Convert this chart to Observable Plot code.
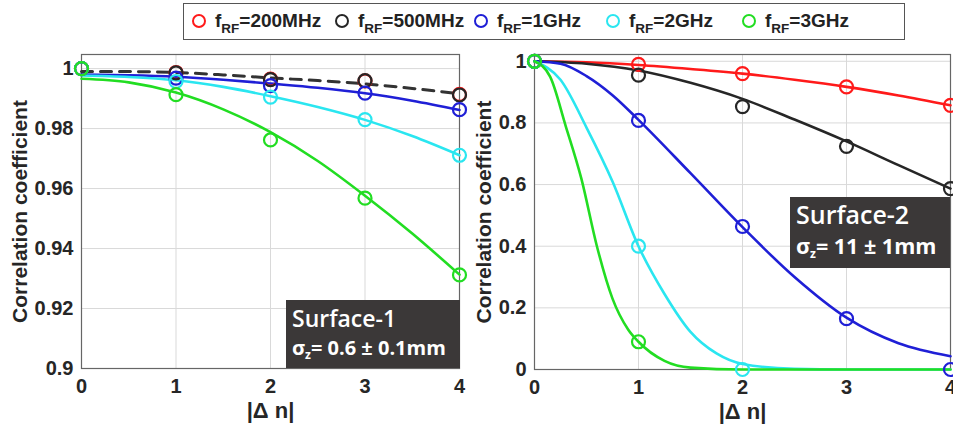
<!DOCTYPE html>
<html>
<head>
<meta charset="utf-8">
<script src="https://cdn.jsdelivr.net/npm/d3@7"></script>
<script src="https://cdn.jsdelivr.net/npm/@observablehq/plot@0.6"></script>
<style>
  html, body { margin: 0; padding: 0; background: #fff; }
  body { width: 953px; height: 429px; position: relative; overflow: hidden; font-family: "Liberation Sans", Arial, sans-serif; }
  #legend { position: absolute; left: 183px; top: 3px; width: 722px; height: 37px; border: 1.5px solid #555; box-sizing: border-box; background: #fff; z-index: 2; }
  .li { position: absolute; top: 0; height: 34px; display: flex; align-items: center; font-weight: bold; font-size: 19px; color: #222; white-space: nowrap; }
  .ring { display: inline-block; width: 10px; height: 10px; border-radius: 50%; border: 2px solid; margin-right: 9px; }
  .li sub { font-size: 13.5px; vertical-align: -6px; line-height: 0; }
  #left { position: absolute; left: 0; top: 40px; }
  #right { position: absolute; left: 470px; top: 40px; }
  .box { position: absolute; background: #3b3838; color: #fff; font-family: "Open Sans", "Noto Sans", sans-serif; box-sizing: border-box; }
  .box .t1 { position: absolute; left: 6px; font-weight: 600; white-space: nowrap; }
  .box .t2 { position: absolute; left: 6px; font-weight: 700; white-space: nowrap; }
  .box sub { font-size: 12px; vertical-align: -4px; line-height: 0; }
</style>
</head>
<body>
<div id="legend"></div>
<div id="left"></div>
<div id="right"></div>
<div class="box" style="left:286px; top:300px; width:174px; height:68px;">
  <div class="t1" style="top:2px; font-size:23px;">Surface-1</div>
  <div class="t2" style="top:34px; font-size:20px;">σ<sub>z</sub>= 0.6 ± 0.1mm</div>
</div>
<div class="box" style="left:790px; top:197px; width:160px; height:71px;">
  <div class="t1" style="top:0px; font-size:25px;">Surface-2</div>
  <div class="t2" style="top:34px; font-size:21.5px;">σ<sub>z</sub>= 11 ± 1mm</div>
</div>
<script>
// ---------- data ----------
const seriesNames = ["200MHz", "500MHz", "1GHz", "2GHz", "3GHz"];
const seriesColors = ["#ff1a1a", "#262626", "#1f1fd6", "#2ae6f0", "#22dd22"];
const dn = [0, 1, 2, 3, 4];

// Surface-1 measured points
const s1_200 = [1, 0.9987, 0.9965, 0.9959, 0.9914];
const s1_500 = [1, 0.9986, 0.9963, 0.9960, 0.9912];
const s1_1G  = [1, 0.9968, 0.9943, 0.9918, 0.9863];
const s1_2G  = [1, 0.9957, 0.9905, 0.9830, 0.9711];
const s1_3G  = [1, 0.9913, 0.9762, 0.9568, 0.9312];

// Surface-1 fitted curves
const fitX1 = [0, 0.5, 1, 1.5, 2, 2.5, 3, 3.5, 4];
const f1_500 = [0.9990, 0.9990, 0.9987, 0.9979, 0.9969, 0.9960, 0.9949, 0.9934, 0.9916];
const f1_1G  = [0.9980, 0.9978, 0.9973, 0.9963, 0.9950, 0.9936, 0.9918, 0.9893, 0.9862];
const f1_2G  = [0.9977, 0.9972, 0.9961, 0.9939, 0.9908, 0.9872, 0.9829, 0.9775, 0.9711];
const f1_3G  = [0.9966, 0.9954, 0.9920, 0.9864, 0.9788, 0.9692, 0.9576, 0.9450, 0.9313];

// Surface-2 measured points
const s2_200 = [1, 0.990, 0.960, 0.917, 0.857];
const s2_500 = [1, 0.955, 0.853, 0.724, 0.587];
const s2_1G  = [1, 0.808, 0.464, 0.165, 0.0];
const s2_2G  = [1, 0.40, 0.0];
const s2_3G  = [1, 0.09];

// Surface-2 fitted curves
const fitX2a = [0, 0.5, 1, 1.5, 2, 2.5, 3, 3.5, 4];
const f2_200 = [1, 0.997, 0.988, 0.975, 0.960, 0.940, 0.917, 0.889, 0.857];
const f2_500 = [1, 0.992, 0.970, 0.930, 0.878, 0.811, 0.740, 0.663, 0.587];
const fitX2b = [0, 0.25, 0.5, 0.75, 1, 1.5, 2, 2.5, 3, 3.5, 4];
const f2_1G  = [1, 0.992, 0.952, 0.890, 0.810, 0.637, 0.462, 0.300, 0.168, 0.085, 0.043];
const fitX2c = [0, 0.25, 0.5, 0.75, 1, 1.25, 1.5, 1.75, 2, 2.5, 3, 4];
const f2_2G  = [1, 0.940, 0.785, 0.610, 0.400, 0.245, 0.122, 0.052, 0.018, 0.002, 0, 0];
const fitX2d = [0, 0.15, 0.3, 0.45, 0.6, 0.75, 0.9, 1, 1.25, 1.5, 2, 3, 4];
const f2_3G  = [1, 0.950, 0.790, 0.620, 0.400, 0.230, 0.130, 0.090, 0.028, 0.006, 0, 0, 0];

const yTicks1 = [0.9, 0.92, 0.94, 0.96, 0.98, 1];
const yTicks2 = [0, 0.2, 0.4, 0.6, 0.8, 1];
const xTicks = [0, 1, 2, 3, 4];
const xLabel = "|Δ n|";
const yLabel = "Correlation coefficient";

// ---------- helpers ----------
const rows = (xs, ys, s) => ys.map((y, i) => ({x: xs[i], y, s}));
const color = {domain: seriesNames, range: seriesColors};
const font = "'Liberation Sans', Arial, sans-serif";

function commonAxes(yTicks, fmt, yLabelDx) {
  return [
    Plot.gridX(xTicks, {stroke: "#d9d9d9", strokeOpacity: 1}),
    Plot.gridY(yTicks, {stroke: "#d9d9d9", strokeOpacity: 1}),
    Plot.frame({stroke: "#666", strokeWidth: 1.2}),
    Plot.axisX(xTicks, {tickSize: 0, tickPadding: 10, fill: "#262626", fontSize: 20, fontWeight: "bold", label: null}),
    Plot.axisY(yTicks, {tickSize: 0, tickPadding: 8, fill: "#262626", fontSize: 20, fontWeight: "bold", tickFormat: fmt, label: null}),
    Plot.text([xLabel], {frameAnchor: "bottom", dy: 42, lineAnchor: "middle", textAnchor: "middle",
      fontSize: 22, fontWeight: "bold", fill: "#262626"}),
    Plot.text([yLabel], {frameAnchor: "left", dx: yLabelDx, rotate: -90, textAnchor: "middle", lineAnchor: "middle",
      fontSize: 21, fontWeight: "bold", fill: "#262626"})
  ];
}

const fmt = d => d3.format("")(+d.toFixed(2));
const plotStyle = {fontFamily: font, fontSize: "20px", fontWeight: "bold", background: "transparent", overflow: "visible"};

// ---------- left panel ----------
const left = Plot.plot({
  width: 470, height: 389,
  marginLeft: 81, marginRight: 11, marginTop: 14, marginBottom: 61,
  style: plotStyle,
  x: {domain: [0, 4]},
  y: {domain: [0.9, 1.0047]},
  color,
  marks: [
    ...commonAxes(yTicks1, fmt, -61),
    Plot.line(rows(fitX1, f1_500, "500MHz"), {x: "x", y: "y", stroke: "#333", strokeWidth: 3, strokeDasharray: "11,8", curve: "monotone-x"}),
    Plot.line(rows(fitX1, f1_1G, "1GHz"), {x: "x", y: "y", stroke: "s", strokeWidth: 2.6, curve: "monotone-x"}),
    Plot.line(rows(fitX1, f1_2G, "2GHz"), {x: "x", y: "y", stroke: "s", strokeWidth: 2.6, curve: "monotone-x"}),
    Plot.line(rows(fitX1, f1_3G, "3GHz"), {x: "x", y: "y", stroke: "s", strokeWidth: 2.6, curve: "monotone-x"}),
    Plot.dot([
      ...rows(dn, s1_200, "200MHz"), ...rows(dn, s1_500, "500MHz"), ...rows(dn, s1_1G, "1GHz"),
      ...rows(dn, s1_2G, "2GHz"), ...rows(dn, s1_3G, "3GHz")
    ], {x: "x", y: "y", stroke: "s", r: 6.5, strokeWidth: 2.2, fill: "none"})
  ]
});
document.getElementById("left").appendChild(left);

// ---------- right panel ----------
const right = Plot.plot({
  width: 483, height: 389,
  marginLeft: 64, marginRight: 3, marginTop: 14, marginBottom: 60,
  style: plotStyle,
  x: {domain: [0, 4]},
  y: {domain: [0, 1.022]},
  color,
  marks: [
    ...commonAxes(yTicks2, fmt, -50),
    Plot.line(rows(fitX2a, f2_200, "200MHz"), {x: "x", y: "y", stroke: "s", strokeWidth: 2.6, curve: "monotone-x"}),
    Plot.line(rows(fitX2a, f2_500, "500MHz"), {x: "x", y: "y", stroke: "s", strokeWidth: 2.6, curve: "monotone-x"}),
    Plot.line(rows(fitX2b, f2_1G, "1GHz"), {x: "x", y: "y", stroke: "s", strokeWidth: 2.6, curve: "monotone-x"}),
    Plot.line(rows(fitX2c, f2_2G, "2GHz"), {x: "x", y: "y", stroke: "s", strokeWidth: 2.6, curve: "monotone-x"}),
    Plot.line(rows(fitX2d, f2_3G, "3GHz"), {x: "x", y: "y", stroke: "s", strokeWidth: 2.6, curve: "monotone-x"}),
    Plot.dot([
      ...rows(dn, s2_200, "200MHz"), ...rows(dn, s2_500, "500MHz"), ...rows(dn, s2_1G, "1GHz"),
      ...rows(dn, s2_2G, "2GHz"), ...rows(dn, s2_3G, "3GHz")
    ], {x: "x", y: "y", stroke: "s", r: 6.5, strokeWidth: 2.2, fill: "none"})
  ]
});
document.getElementById("right").appendChild(right);

// ---------- legend ----------
const legendX = [8, 151, 290, 422, 558];
const legend = document.getElementById("legend");
seriesNames.forEach((name, i) => {
  const el = document.createElement("div");
  el.className = "li";
  el.style.left = legendX[i] + "px";
  const ring = document.createElement("span");
  ring.className = "ring";
  ring.style.borderColor = seriesColors[i];
  el.appendChild(ring);
  const txt = document.createElement("span");
  txt.innerHTML = "f<sub>RF</sub>=" + name;
  el.appendChild(txt);
  legend.appendChild(el);
});
</script>
</body>
</html>
